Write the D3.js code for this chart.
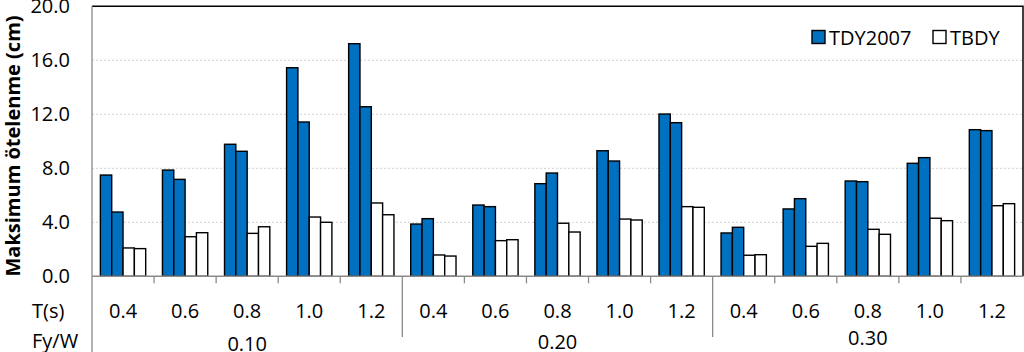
<!DOCTYPE html>
<html>
<head>
<meta charset="utf-8">
<script src="https://cdn.jsdelivr.net/npm/d3@7"></script>
<style>
  body { margin: 0; background: #fff; }
  text { font-family: "Open Sans", "Noto Sans", sans-serif; fill: #000; }
</style>
</head>
<body>
<div id="chart"></div>
<script>
// data
var groups = ["0.10", "0.20", "0.30"];          // Fy/W
var periods = ["0.4", "0.6", "0.8", "1.0", "1.2"]; // T(s)
var tdyA  = [7.50, 7.87, 9.78, 15.45, 17.23, 3.87, 5.28, 6.86, 9.30, 12.02, 3.21, 4.99, 7.06, 8.37, 10.86];
var tdyB  = [4.76, 7.18, 9.26, 11.43, 12.56, 4.27, 5.16, 7.65, 8.54, 11.38, 3.63, 5.75, 7.01, 8.79, 10.79];
var tbdyA = [2.10, 2.93, 3.18, 4.39, 5.43, 1.58, 2.64, 3.93, 4.24, 5.16, 1.56, 2.22, 3.48, 4.30, 5.23];
var tbdyB = [2.05, 3.23, 3.67, 4.00, 4.56, 1.50, 2.71, 3.28, 4.17, 5.11, 1.60, 2.44, 3.11, 4.12, 5.38];
var yTicks = [0, 4, 8, 12, 16, 20];
var legendKeys = ["TDY2007", "TBDY"];

var W = 1024, H = 352;
var plotLeft = 92, plotRight = 1023, plotTop = 6.3, plotBottom = 276.3;
var blue = "#0070C0";
var fontSize = "20px";

var svg = d3.select("#chart").append("svg")
    .attr("width", W).attr("height", H);

// one entry per category (group x period)
var cats = [];
groups.forEach(function(g, gi) {
    periods.forEach(function(p, pi) {
        var i = gi * periods.length + pi;
        cats.push({ id: i, group: g, period: p, vals: [tdyA[i], tdyB[i], tbdyA[i], tbdyB[i]] });
    });
});

var x = d3.scaleBand().domain(d3.range(cats.length)).range([plotLeft, plotRight]);
var xs = d3.scaleBand().domain(d3.range(4)).range([0, x.bandwidth()])
    .paddingInner(0).paddingOuter(0.74);
var y = d3.scaleLinear().domain([0, 20]).range([plotBottom, plotTop]);

// gridlines
svg.append("g").selectAll("line")
    .data(yTicks.filter(function(d) { return d > 0 && d < 20; }))
    .enter().append("line")
    .attr("x1", plotLeft).attr("x2", plotRight)
    .attr("y1", function(d) { return y(d); }).attr("y2", function(d) { return y(d); })
    .attr("stroke", "#d0d0d0").attr("stroke-width", 1).attr("stroke-dasharray", "2,2");

// frame top and right
svg.append("path")
    .attr("d", "M" + plotLeft + "," + y(20) + "H" + plotRight + "V" + y(0))
    .attr("fill", "none").attr("stroke", "#000").attr("stroke-width", 1.5);

// bars
var fills = [blue, blue, "#fff", "#fff"];
svg.append("g").selectAll("g")
    .data(cats).enter().append("g")
    .attr("transform", function(d) { return "translate(" + x(d.id) + ",0)"; })
    .selectAll("rect")
    .data(function(d) { return d.vals; })
    .enter().append("rect")
    .attr("x", function(d, i) { return xs(i); })
    .attr("y", function(d) { return y(d); })
    .attr("width", xs.bandwidth())
    .attr("height", function(d) { return y(0) - y(d); })
    .attr("fill", function(d, i) { return fills[i]; })
    .attr("stroke", "#000").attr("stroke-width", 1.4);

// y axis
var yAxis = svg.append("g")
    .attr("transform", "translate(" + plotLeft + ",0)")
    .call(d3.axisLeft(y).tickValues(yTicks).tickSize(0).tickPadding(22).tickFormat(d3.format(".1f")));
yAxis.select(".domain").remove();
yAxis.attr("font-family", null);
yAxis.selectAll("text").style("font-size", fontSize).attr("fill", "#000");

// axis lines (gray)
var axisGray = "#8a8a8a";
svg.append("line").attr("x1", plotLeft).attr("x2", plotLeft).attr("y1", plotTop).attr("y2", H)
    .attr("stroke", axisGray).attr("stroke-width", 1.3);
svg.append("line").attr("x1", plotLeft).attr("x2", plotRight).attr("y1", plotBottom).attr("y2", plotBottom)
    .attr("stroke", axisGray).attr("stroke-width", 1.5);

// category boundary ticks, long ones between Fy/W groups
svg.append("g").selectAll("line")
    .data(d3.range(1, cats.length))
    .enter().append("line")
    .attr("x1", function(d) { return x(d); }).attr("x2", function(d) { return x(d); })
    .attr("y1", plotBottom)
    .attr("y2", function(d) { return d % periods.length === 0 ? 337 : plotBottom + 7; })
    .attr("stroke", axisGray).attr("stroke-width", 1.3);

// T(s) labels
svg.append("g").selectAll("text")
    .data(cats).enter().append("text")
    .attr("x", function(d) { return x(d.id) + x.bandwidth() / 2; })
    .attr("y", 310)
    .attr("text-anchor", "middle").attr("dominant-baseline", "central")
    .style("font-size", fontSize)
    .text(function(d) { return d.period; });

// Fy/W group labels (cut by the bottom edge, as in the reference)
var groupLabelY = [343, 341, 337];
svg.append("g").selectAll("text")
    .data(groups).enter().append("text")
    .attr("x", function(d, i) {
        var a = x(i * periods.length), b = x((i + 1) * periods.length - 1) + x.bandwidth();
        return (a + b) / 2;
    })
    .attr("y", function(d, i) { return groupLabelY[i]; })
    .attr("text-anchor", "middle").attr("dominant-baseline", "central")
    .style("font-size", fontSize)
    .text(function(d) { return d; });

// row captions
svg.append("text").attr("x", 32).attr("y", 310).attr("dominant-baseline", "central")
    .style("font-size", fontSize).text("T(s)");
svg.append("text").attr("x", 32).attr("y", 340).attr("dominant-baseline", "central")
    .style("font-size", fontSize).text("Fy/W");

// y title
svg.append("text")
    .attr("transform", "translate(12," + ((15 + 277) / 2) + ") rotate(-90)")
    .attr("text-anchor", "middle").attr("dominant-baseline", "central")
    .style("font-size", "20px").style("font-weight", "bold")
    .text("Maksimum ötelenme (cm)");

// legend
var legendX = [812, 933];
var lg = svg.append("g").selectAll("g")
    .data(legendKeys).enter().append("g")
    .attr("transform", function(d, i) { return "translate(" + legendX[i] + ",30.5)"; });
lg.append("rect").attr("width", 13).attr("height", 13)
    .attr("fill", function(d, i) { return i === 0 ? blue : "#fff"; })
    .attr("stroke", "#000").attr("stroke-width", 1.4);
lg.append("text").attr("x", 17).attr("y", 6.5).attr("dominant-baseline", "central")
    .style("font-size", fontSize)
    .text(function(d) { return d; });
</script>
</body>
</html>
